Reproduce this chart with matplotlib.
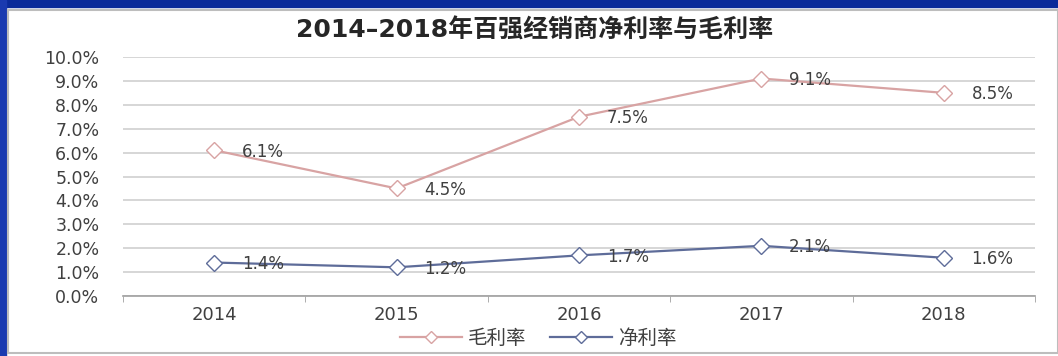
import matplotlib.pyplot as plt
from matplotlib.patches import Rectangle
from matplotlib.lines import Line2D

plt.rcParams['font.family'] = ['Noto Sans CJK SC', 'DejaVu Sans']

years = ['2014', '2015', '2016', '2017', '2018']
gross_margin = [6.1, 4.5, 7.5, 9.1, 8.5]
net_margin = [1.4, 1.2, 1.7, 2.1, 1.6]
yticks = [0, 1, 2, 3, 4, 5, 6, 7, 8, 9, 10]

pink = '#D8A3A3'
navy = '#5E6C99'

fig = plt.figure(figsize=(10.58, 3.56), dpi=100)
W, H = 1058, 356

# page background: blue band on top/left, grey frame around chart
fig.patches.append(Rectangle((0, 1 - 7 / H), 1, 7 / H, transform=fig.transFigure,
                             color='#0A2A9A', zorder=-5))
fig.patches.append(Rectangle((0, 0), 6 / W, 1, transform=fig.transFigure,
                             color='#1A3AB0', zorder=-5))
fig.patches.append(Rectangle((8 / W, 3 / H), 1 - 8 / W, 1 - 13 / H, transform=fig.transFigure,
                             facecolor='white', edgecolor='#BDBDBD', lw=1.5, zorder=-5))

ax = fig.add_axes([123 / W, (H - 296) / H, (1035 - 123) / W, (296 - 57) / H])
ax.set_zorder(2)
ax.patch.set_alpha(0)
x = list(range(len(years)))

ax.plot(x, gross_margin, color=pink, lw=1.6, marker='D', ms=8,
        mfc='white', mec=pink, mew=1.0, zorder=3)
ax.plot(x, net_margin, color=navy, lw=1.6, marker='D', ms=8,
        mfc='white', mec=navy, mew=1.0, zorder=3)

for xi, v in zip(x, gross_margin):
    ax.annotate(f'{v:.1f}%', (xi, v), xytext=(20, -1), textcoords='offset points',
                fontsize=12, color='#404040', family='DejaVu Sans', va='center')
for xi, v in zip(x, net_margin):
    ax.annotate(f'{v:.1f}%', (xi, v), xytext=(20, -1), textcoords='offset points',
                fontsize=12, color='#404040', family='DejaVu Sans', va='center')

ax.set_xlim(-0.5, len(years) - 0.5)
ax.set_ylim(0, 10)
ax.set_yticks(yticks)
ax.set_yticklabels([f'{t:.1f}%' for t in yticks], family='DejaVu Sans',
                   fontsize=12.5, color='#404040')
ax.set_xticks(x)
ax.set_xticklabels(years, family='DejaVu Sans', fontsize=13, color='#404040')
ax.set_xticks([i - 0.5 for i in range(len(years) + 1)], minor=True)
ax.tick_params(axis='x', which='major', length=0, pad=7)
ax.tick_params(axis='x', which='minor', length=4, color='#A0A0A0', direction='out')
ax.tick_params(axis='y', length=0, pad=17)
ax.grid(axis='y', color='#D0D0D0', lw=1.2)
ax.set_axisbelow(True)
for s in ['top', 'right', 'left']:
    ax.spines[s].set_visible(False)
ax.spines['bottom'].set_color('#A0A0A0')
ax.spines['bottom'].set_linewidth(1.2)

fig.text(535 / W, 1 - 31 / H, '2014–2018年百强经销商净利率与毛利率', ha='center', va='center',
         fontsize=18, fontweight='bold', color='#262626',
         family=['DejaVu Sans', 'Noto Sans CJK SC'])

handles = [Line2D([], [], color=pink, lw=1.6, marker='D', ms=6, mfc='white', mec=pink),
           Line2D([], [], color=navy, lw=1.6, marker='D', ms=6, mfc='white', mec=navy)]
fig.legend(handles, ['毛利率', '净利率'], loc='center', bbox_to_anchor=(538 / W, 1 - 338 / H),
           ncol=2, frameon=False, fontsize=14, handlelength=3.2, columnspacing=1.2,
           handletextpad=0.3, labelcolor='#404040')

fig.savefig('out.png', dpi=100)
